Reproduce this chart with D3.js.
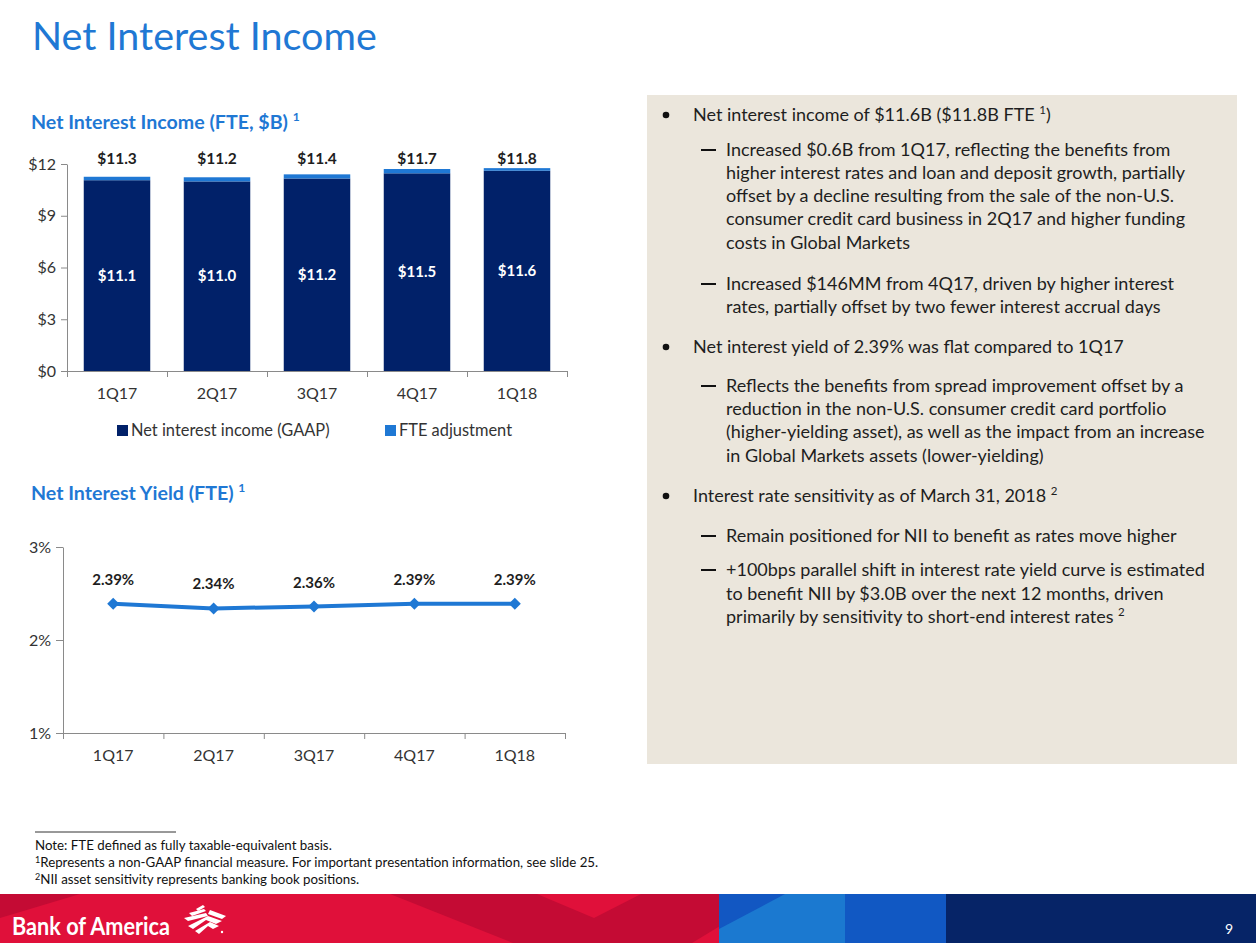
<!DOCTYPE html>
<html>
<head>
<meta charset="utf-8">
<script src="https://cdn.jsdelivr.net/npm/d3@7"></script>
<style>
  body { margin: 0; background: #fff; }
  svg { display: block; }
  text { font-family: Lato, "Open Sans", sans-serif; }
</style>
</head>
<body>
<svg id="slide" width="1256" height="943"></svg>
<script>

    // chart data
    const quarters = ["1Q17", "2Q17", "3Q17", "4Q17", "1Q18"];
    const niiGaap = [11.06, 10.99, 11.16, 11.46, 11.61];
    const fteAdj = [0.20, 0.24, 0.24, 0.25, 0.15];
    const niiTicks = [0, 3, 6, 9, 12];
    const yieldPct = [2.39, 2.34, 2.36, 2.39, 2.39];
    const yieldTicks = [1, 2, 3];
    const seriesNames = ["Net interest income (GAAP)", "FTE adjustment"];

    const navy = "#012169";
    const blue = "#1f78d4";
    const axisGrey = "#8a8a8a";
    const ink = "#1e1e1e";

    const svg = d3.select("#slide");

    // slide title
    svg.append("text").attr("x", 32).attr("y", 50)
        .attr("font-family", "'Open Sans', sans-serif")
        .attr("font-size", 39.5).attr("fill", blue)
        .text("Net Interest Income");

    function chartTitle(x, y, label) {
        const t = svg.append("text").attr("x", x).attr("y", y)
            .attr("font-size", 19.6).attr("font-weight", "bold").attr("fill", blue);
        t.append("tspan").text(label + " ");
        t.append("tspan").attr("dy", -8).attr("font-size", 12).text("1");
    }

    // ---------- bar chart ----------
    chartTitle(31, 129, "Net Interest Income (FTE, $B)");

    const xBar = d3.scaleBand().domain(quarters).range([67, 567])
        .paddingInner(0.335).paddingOuter(0.1675);
    const yBar = d3.scaleLinear().domain([0, 12]).range([371, 164]);

    const stacked = d3.stack().keys([0, 1])
        .value(function (d, k) { return k === 0 ? d.gaap : d.fte; })(
            quarters.map(function (q, i) { return { q: q, gaap: niiGaap[i], fte: fteAdj[i] }; })
        );
    const barColors = [navy, blue];

    svg.append("g").selectAll("g").data(stacked).join("g")
        .attr("fill", function (d, i) { return barColors[i]; })
        .selectAll("rect").data(function (d) { return d; }).join("rect")
        .attr("x", function (d) { return xBar(d.data.q); })
        .attr("width", xBar.bandwidth())
        .attr("y", function (d) { return yBar(d[1]); })
        .attr("height", function (d) { return yBar(d[0]) - yBar(d[1]); });

    const fmt = d3.format(".1f");
    // GAAP values inside the dark bars
    svg.append("g").selectAll("text").data(stacked[0]).join("text")
        .attr("x", function (d) { return xBar(d.data.q) + xBar.bandwidth() / 2; })
        .attr("y", function (d) { return (yBar(d[0]) + yBar(d[1])) / 2; })
        .attr("dy", "0.35em").attr("text-anchor", "middle")
        .attr("font-size", 15).attr("font-weight", "bold").attr("fill", "#fff")
        .text(function (d) { return "$" + fmt(d[1]); });
    // FTE totals above
    svg.append("g").selectAll("text").data(stacked[1]).join("text")
        .attr("x", function (d) { return xBar(d.data.q) + xBar.bandwidth() / 2; })
        .attr("y", 164)
        .attr("text-anchor", "middle")
        .attr("font-size", 15.5).attr("font-weight", "bold").attr("fill", ink)
        .text(function (d) { return "$" + fmt(d[1]); });

    function styleAxis(g) {
        g.selectAll("path, line").attr("stroke", axisGrey);
        g.selectAll("text").attr("fill", "#333").attr("font-size", 16)
            .attr("font-family", "Lato, sans-serif");
    }

    svg.append("g").attr("transform", "translate(67,0)")
        .call(d3.axisLeft(yBar).tickValues(niiTicks).tickFormat(function (d) { return "$" + d; })
            .tickSize(6).tickSizeOuter(0).tickPadding(5))
        .call(styleAxis);

    // quarter boundaries carry the ticks, labels sit on band centres
    const barEdges = d3.scaleLinear().domain([0, quarters.length]).range(xBar.range());
    svg.append("g").attr("transform", "translate(0,371)")
        .call(d3.axisBottom(barEdges).ticks(quarters.length).tickFormat("").tickSize(6).tickSizeOuter(6))
        .call(styleAxis);
    svg.append("g").attr("transform", "translate(0,371)")
        .call(d3.axisBottom(xBar).tickSize(0).tickPadding(17))
        .call(function (g) { g.select(".domain").remove(); })
        .call(styleAxis);

    // legend
    const legend = svg.append("g").selectAll("g").data(seriesNames).join("g")
        .attr("transform", function (d, i) { return "translate(" + [117, 385][i] + ",425)"; });
    legend.append("rect").attr("width", 11).attr("height", 11)
        .attr("fill", function (d, i) { return barColors[i]; });
    legend.append("text").attr("x", 14).attr("y", 11)
        .attr("font-size", 16.4).attr("fill", "#333")
        .text(function (d) { return d; });

    // ---------- line chart ----------
    chartTitle(31, 500, "Net Interest Yield (FTE)");

    const xLine = d3.scaleBand().domain(quarters).range([63, 565])
        .paddingInner(0.335).paddingOuter(0.1675);
    const yLine = d3.scaleLinear().domain([1, 3]).range([733, 547]);
    const cx = function (q) { return xLine(q) + xLine.bandwidth() / 2; };

    svg.append("g").attr("transform", "translate(63,0)")
        .call(d3.axisLeft(yLine).tickValues(yieldTicks).tickFormat(function (d) { return d + "%"; })
            .tickSize(7).tickSizeOuter(0).tickPadding(5))
        .call(styleAxis);
    const lineEdges = d3.scaleLinear().domain([0, quarters.length]).range(xLine.range());
    svg.append("g").attr("transform", "translate(0,733)")
        .call(d3.axisBottom(lineEdges).ticks(quarters.length).tickFormat("").tickSize(6).tickSizeOuter(6))
        .call(styleAxis);
    svg.append("g").attr("transform", "translate(0,733)")
        .call(d3.axisBottom(xLine).tickSize(0).tickPadding(17))
        .call(function (g) { g.select(".domain").remove(); })
        .call(styleAxis);

    const pts = quarters.map(function (q, i) { return { q: q, v: yieldPct[i] }; });
    svg.append("path").datum(pts)
        .attr("fill", "none").attr("stroke", blue).attr("stroke-width", 4)
        .attr("d", d3.line().x(function (d) { return cx(d.q); }).y(function (d) { return yLine(d.v); }));
    svg.append("g").selectAll("path").data(pts).join("path")
        .attr("transform", function (d) { return "translate(" + cx(d.q) + "," + yLine(d.v) + ") rotate(45)"; })
        .attr("d", d3.symbol(d3.symbolSquare, 72)())
        .attr("fill", blue);
    svg.append("g").selectAll("text").data(pts).join("text")
        .attr("x", function (d) { return cx(d.q); })
        .attr("y", function (d) { return yLine(d.v) - 19; })
        .attr("text-anchor", "middle")
        .attr("font-size", 15).attr("font-weight", "bold").attr("fill", ink)
        .text(function (d) { return d3.format(".2f")(d.v) + "%"; });

    // ---------- commentary panel ----------
    svg.append("rect").attr("x", 647).attr("y", 95).attr("width", 590).attr("height", 669)
        .attr("fill", "#ebe6dc");

    const panelLines = [
        { y: 121, kind: "bullet", t: "Net interest income of $11.6B ($11.8B FTE ", sup: "1", after: ")" },
        { y: 156, kind: "dash", t: "Increased $0.6B from 1Q17, reflecting the benefits from" },
        { y: 179, t: "higher interest rates and loan and deposit growth, partially" },
        { y: 202, t: "offset by a decline resulting from the sale of the non-U.S." },
        { y: 225, t: "consumer credit card business in 2Q17 and higher funding" },
        { y: 249, t: "costs in Global Markets" },
        { y: 290, kind: "dash", t: "Increased $146MM from 4Q17, driven by higher interest" },
        { y: 313, t: "rates, partially offset by two fewer interest accrual days" },
        { y: 353, kind: "bullet", t: "Net interest yield of 2.39% was flat compared to 1Q17" },
        { y: 392, kind: "dash", t: "Reflects the benefits from spread improvement offset by a" },
        { y: 415, t: "reduction in the non-U.S. consumer credit card portfolio" },
        { y: 438, t: "(higher-yielding asset), as well as the impact from an increase" },
        { y: 462, t: "in Global Markets assets (lower-yielding)" },
        { y: 502, kind: "bullet", t: "Interest rate sensitivity as of March 31, 2018 ", sup: "2" },
        { y: 542, kind: "dash", t: "Remain positioned for NII to benefit as rates move higher" },
        { y: 576, kind: "dash", t: "+100bps parallel shift in interest rate yield curve is estimated" },
        { y: 600, t: "to benefit NII by $3.0B over the next 12 months, driven" },
        { y: 623, t: "primarily by sensitivity to short-end interest rates ", sup: "2" }
    ];

    const panel = svg.append("g");
    panelLines.forEach(function (l) {
        const x = l.kind === "bullet" ? 693 : 726;
        if (l.kind === "bullet") {
            panel.append("circle").attr("cx", 666).attr("cy", l.y - 6).attr("r", 3.3).attr("fill", "#111");
        }
        if (l.kind === "dash") {
            panel.append("line").attr("x1", 701).attr("x2", 716)
                .attr("y1", l.y - 6).attr("y2", l.y - 6)
                .attr("stroke", "#111").attr("stroke-width", 2);
        }
        const t = panel.append("text").attr("x", x).attr("y", l.y)
            .attr("font-size", 18).attr("fill", ink);
        t.append("tspan").text(l.t);
        if (l.sup) {
            t.append("tspan").attr("dy", -7).attr("font-size", 11.5).text(l.sup);
            if (l.after) t.append("tspan").attr("dy", 7).text(l.after);
        }
    });

    // ---------- footnotes ----------
    svg.append("line").attr("x1", 35).attr("x2", 176).attr("y1", 832).attr("y2", 832)
        .attr("stroke", "#333").attr("stroke-width", 1);
    const notes = [
        { y: 850, sup: "", t: "Note: FTE defined as fully taxable-equivalent basis." },
        { y: 867, sup: "1", t: "Represents a non-GAAP financial measure. For important presentation information, see slide 25." },
        { y: 884, sup: "2", t: "NII asset sensitivity represents banking book positions." }
    ];
    notes.forEach(function (n) {
        const t = svg.append("text").attr("x", 35).attr("y", n.y)
            .attr("font-size", 13.3).attr("fill", "#111");
        if (n.sup) t.append("tspan").attr("dy", -4).attr("font-size", 9).text(n.sup);
        t.append("tspan").attr("dy", n.sup ? 4 : 0).text(n.t);
    });

    // ---------- footer band ----------
    const band = svg.append("g");
    band.append("rect").attr("x", 0).attr("y", 894).attr("width", 720).attr("height", 49).attr("fill", "#e0103a");
    band.append("path").attr("d", "M0,894 L80,894 L0,918 Z").attr("fill", "#c40b34");
    band.append("path").attr("d", "M390,894 L537,894 L594,918 L641,894 L720,894 L720,926 L692,943 L513,943 Z")
        .attr("fill", "#c40b34");
    band.append("rect").attr("x", 719).attr("y", 894).attr("width", 127).attr("height", 49).attr("fill", "#1b79d0");
    band.append("path").attr("d", "M719,894 L785,894 L719,929 Z").attr("fill", "#1257c2");
    band.append("rect").attr("x", 845).attr("y", 894).attr("width", 101).attr("height", 49).attr("fill", "#1158c3");
    band.append("rect").attr("x", 946).attr("y", 894).attr("width", 310).attr("height", 49).attr("fill", "#062467");

    band.append("text").attr("x", 12).attr("y", 935)
        .attr("font-family", "'Liberation Sans Narrow', 'Liberation Sans', sans-serif")
        .attr("font-weight", "bold").attr("font-size", 25).attr("fill", "#fff")
        .attr("textLength", 158).attr("lengthAdjust", "spacingAndGlyphs")
        .text("Bank of America");

    // flag mark, rough strokes
    const flag = band.append("g").attr("fill", "#fff");
    flag.append("path").attr("d", "M196,909 L203,905 L205,907 L198,911 Z");
    flag.append("path").attr("d", "M189,913 L204,909 L206,911 L192,916 Z");
    flag.append("path").attr("d", "M184,918 L206,913 L208,916 L188,921 Z");
    flag.append("path").attr("d", "M210,910 L226,916 L222,919 L208,914 Z");
    flag.append("path").attr("d", "M188,926 L208,916 L222,921 L216,924 L206,920 L193,929 Z");
    flag.append("path").attr("d", "M195,931 L210,922 L219,926 L213,929 L208,926 L199,934 Z");
    flag.append("circle").attr("cx", 222).attr("cy", 932).attr("r", 1.2);

    band.append("text").attr("x", 1225).attr("y", 934)
        .attr("font-size", 14).attr("fill", "#fff").text("9");

</script>
</body>
</html>
